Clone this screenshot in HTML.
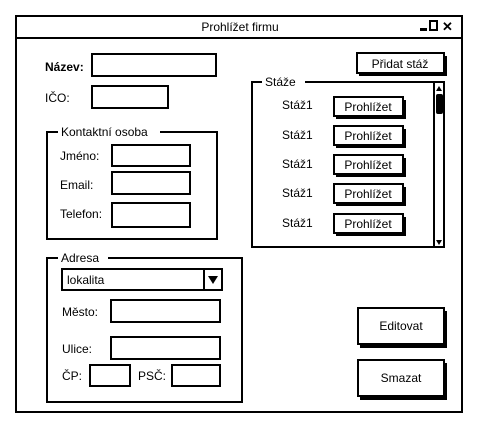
<!DOCTYPE html>
<html><head><meta charset="utf-8"><style>
body{margin:0;background:#fff;}
svg text{font-family:"Liberation Sans",sans-serif;font-size:12px;fill:#000;}
</style></head><body>
<svg width="480" height="430" viewBox="0 0 480 430" xmlns="http://www.w3.org/2000/svg">
<g fill="none" stroke="#000" stroke-width="2">
<rect x="16" y="16" width="446" height="396"/>
<line x1="16" y1="38" x2="462" y2="38"/>
</g>
<text x="240" y="31" text-anchor="middle">Prohlížet firmu</text>
<rect x="420" y="28" width="7" height="3" fill="#000"/>
<rect x="430" y="21" width="7" height="9" fill="none" stroke="#000" stroke-width="2"/>
<text x="442" y="31" style="font-weight:bold;font-size:13px">✕</text>

<text x="45" y="71" style="font-weight:bold">Název:</text>
<text x="45" y="102">IČO:</text>
<g fill="#fff" stroke="#000" stroke-width="2">
<rect x="92" y="54" width="124" height="22"/>
<rect x="92" y="86" width="76" height="22"/>
<rect x="112" y="145" width="78" height="21"/>
<rect x="112" y="172" width="78" height="22"/>
<rect x="112" y="203" width="78" height="24"/>
<rect x="111" y="300" width="109" height="22"/>
<rect x="111" y="337" width="109" height="22"/>
<rect x="90" y="365" width="40" height="21"/>
<rect x="172" y="365" width="48" height="21"/>
<rect x="62" y="269" width="160" height="21"/>
</g>
<line x1="204" y1="269" x2="204" y2="290" stroke="#000" stroke-width="2"/>
<path d="M208 276 L218 276 L213 284 Z" fill="#000"/>
<text x="67" y="284">lokalita</text>

<path d="M58 132 L47 132 L47 239 L217 239 L217 132 L160 132" fill="none" stroke="#000" stroke-width="2"/>
<text x="61" y="136">Kontaktní osoba</text>
<text x="60" y="160">Jméno:</text>
<text x="60" y="189">Email:</text>
<text x="60" y="218">Telefon:</text>

<path d="M58 258 L47 258 L47 402 L242 402 L242 258 L108 258" fill="none" stroke="#000" stroke-width="2"/>
<text x="61" y="262">Adresa</text>
<text x="62" y="316">Město:</text>
<text x="62" y="353">Ulice:</text>
<text x="62" y="380">ČP:</text>
<text x="138" y="380">PSČ:</text>

<!-- right -->
<rect x="359" y="56" width="88" height="20" fill="#000"/>
<rect x="357" y="53" width="87" height="20" fill="#fff" stroke="#000" stroke-width="2"/>
<text x="400" y="68" text-anchor="middle">Přidat stáž</text>

<path d="M262 82 L252 82 L252 247 L444 247 L444 82 L305 82" fill="none" stroke="#000" stroke-width="2"/>
<text x="265" y="86">Stáže</text>
<line x1="434" y1="82" x2="434" y2="247" stroke="#000" stroke-width="2"/>
<path d="M436 91 L442 91 L439 86 Z" fill="#000"/>
<rect x="436" y="94" width="7" height="20" rx="2" fill="#000"/>
<path d="M436 240 L442 240 L439 245 Z" fill="#000"/>

<g>
<text x="282" y="109">Stáž1</text>
<text x="282" y="139">Stáž1</text>
<text x="282" y="168">Stáž1</text>
<text x="282" y="197">Stáž1</text>
<text x="282" y="227">Stáž1</text>
</g>
<g>
<rect x="336" y="100" width="70" height="19" fill="#000"/><rect x="334" y="97" width="69" height="19" fill="#fff" stroke="#000" stroke-width="2"/><text x="368" y="111" text-anchor="middle">Prohlížet</text>
<rect x="336" y="129" width="70" height="19" fill="#000"/><rect x="334" y="126" width="69" height="19" fill="#fff" stroke="#000" stroke-width="2"/><text x="368" y="140" text-anchor="middle">Prohlížet</text>
<rect x="336" y="158" width="70" height="19" fill="#000"/><rect x="334" y="155" width="69" height="19" fill="#fff" stroke="#000" stroke-width="2"/><text x="368" y="169" text-anchor="middle">Prohlížet</text>
<rect x="336" y="187" width="70" height="19" fill="#000"/><rect x="334" y="184" width="69" height="19" fill="#fff" stroke="#000" stroke-width="2"/><text x="368" y="198" text-anchor="middle">Prohlížet</text>
<rect x="336" y="217" width="70" height="19" fill="#000"/><rect x="334" y="214" width="69" height="19" fill="#fff" stroke="#000" stroke-width="2"/><text x="368" y="228" text-anchor="middle">Prohlížet</text>
</g>

<rect x="360" y="311" width="87" height="37" fill="#000"/>
<rect x="358" y="308" width="86" height="36" fill="#fff" stroke="#000" stroke-width="2"/>
<text x="401" y="330" text-anchor="middle">Editovat</text>
<rect x="360" y="363" width="87" height="37" fill="#000"/>
<rect x="358" y="360" width="86" height="36" fill="#fff" stroke="#000" stroke-width="2"/>
<text x="401" y="382" text-anchor="middle">Smazat</text>
</svg>
</body></html>
